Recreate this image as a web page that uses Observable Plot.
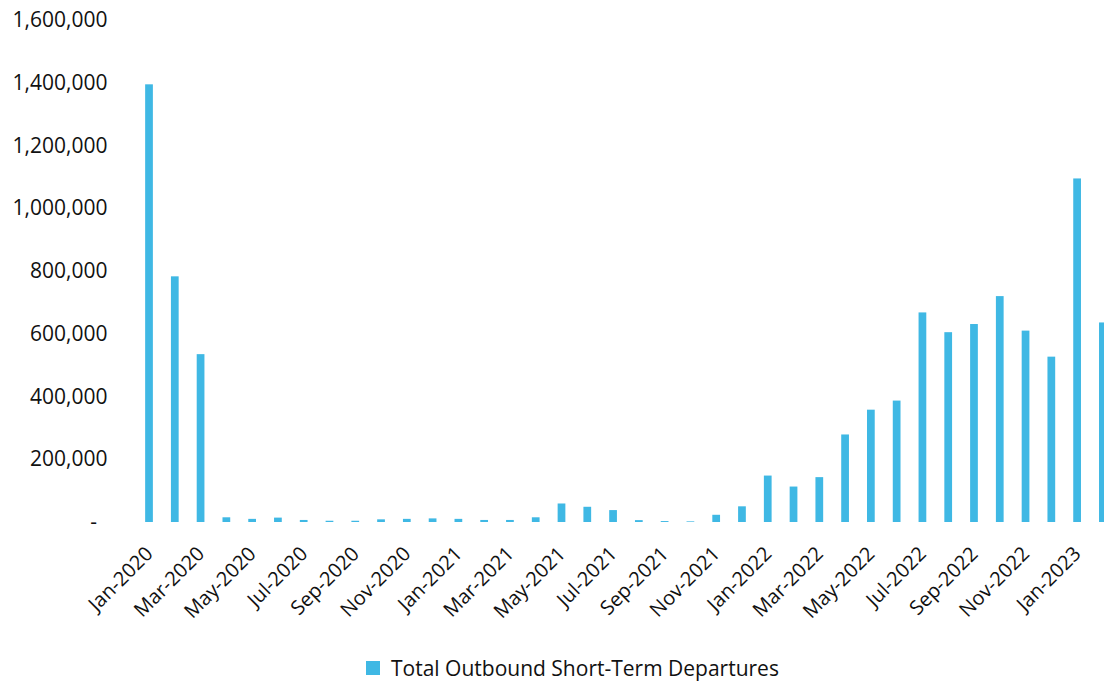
<!DOCTYPE html>
<html>
<head>
<meta charset="utf-8">
<script src="https://cdn.jsdelivr.net/npm/d3@7"></script>
<script src="https://cdn.jsdelivr.net/npm/@observablehq/plot@0.6"></script>
<style>
  html, body { margin: 0; padding: 0; background: #fff; overflow: hidden; }
  body { width: 1104px; height: 682px; font-family: "Open Sans", sans-serif; color: #111; }
  #legend { display: flex; align-items: center; margin-top: 20px; margin-left: 366px; font-size: 21px; line-height: 24px; }
  #legend .swatch { width: 14px; height: 14px; margin-right: 11px; }
</style>
</head>
<body>
<div id="chart"></div>
<div id="legend"></div>
<script>
// Monthly categories, January 2020 to February 2023
const months = [
  "Jan-2020","Feb-2020","Mar-2020","Apr-2020","May-2020","Jun-2020",
  "Jul-2020","Aug-2020","Sep-2020","Oct-2020","Nov-2020","Dec-2020",
  "Jan-2021","Feb-2021","Mar-2021","Apr-2021","May-2021","Jun-2021",
  "Jul-2021","Aug-2021","Sep-2021","Oct-2021","Nov-2021","Dec-2021",
  "Jan-2022","Feb-2022","Mar-2022","Apr-2022","May-2022","Jun-2022",
  "Jul-2022","Aug-2022","Sep-2022","Oct-2022","Nov-2022","Dec-2022",
  "Jan-2023","Feb-2023"
];

// Total outbound short-term departures per month
const departures = [
  1395000, 783000, 535000, 15000, 10000, 14000,
  6500, 4000, 4000, 8500, 10000, 11500,
  10000, 6500, 6500, 15000, 59000, 48500,
  38000, 6000, 3000, 2000, 23000, 50000,
  148000, 113000, 143000, 279000, 358000, 387000,
  668000, 605000, 631000, 720000, 610000, 527000,
  1095000, 636000
];

const seriesName = "Total Outbound Short-Term Departures";
const yTicks = [0, 200000, 400000, 600000, 800000, 1000000, 1200000, 1400000, 1600000];
const xTicks = months.filter((m, i) => i % 2 === 0);

const barColor = "#3fb8e4";
const data = months.map((m, i) => ({month: m, value: departures[i]}));
const fmt = d3.format(",");

const chart = Plot.plot({
  width: 1104,
  height: 636,
  marginTop: 20,
  marginBottom: 114,
  marginLeft: 110,
  marginRight: 0,
  style: {fontFamily: "Open Sans, sans-serif", fontSize: "21px", color: "#111", background: "#fff"},
  x: {type: "band", domain: months, range: [127.1, 1124.8], padding: 0.7, round: false},
  y: {domain: [0, 1600000]},
  marks: [
    Plot.barY(data, {x: "month", y: "value", fill: barColor}),
    Plot.axisY({
      ticks: yTicks,
      tickSize: 0,
      tickPadding: 3,
      label: null,
      tickFormat: d => d === 0 ? "-\u2002" : fmt(d)
    }),
    Plot.axisX({
      ticks: xTicks,
      tickSize: 0,
      tickPadding: 28,
      tickRotate: -45,
      label: null,
      fontSize: 20
    })
  ]
});
document.getElementById("chart").appendChild(chart);

const legend = document.getElementById("legend");
const sw = document.createElement("span");
sw.className = "swatch";
sw.style.background = barColor;
const lbl = document.createElement("span");
lbl.textContent = seriesName;
legend.append(sw, lbl);
</script>
</body>
</html>
